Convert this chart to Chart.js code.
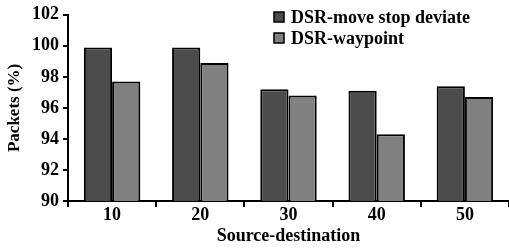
<!DOCTYPE html>
<html>
<head>
<meta charset="utf-8">
<script src="https://cdn.jsdelivr.net/npm/chart.js@4/dist/chart.umd.min.js"></script>
<style>
  html, body { margin: 0; padding: 0; background: #fff; }
  #wrap { width: 509px; height: 249px; }
</style>
</head>
<body>
<div id="wrap"><canvas id="myChart"></canvas></div>
<script>
const categories = ['10', '20', '30', '40', '50']
const moveStopDeviate = [99.9, 99.9, 97.2, 97.1, 97.4]
const waypoint = [97.7, 98.9, 96.8, 94.3, 96.7]
const seriesNames = ['DSR-move stop deviate', 'DSR-waypoint']
const yTicks = [90, 92, 94, 96, 98, 100, 102]

const serif = "'Liberation Serif', 'Times New Roman', serif"

// legend drawn in the top right corner, over the plot
const cornerLegend = {
  id: 'cornerLegend',
  afterDraw (chart) {
    const c = chart.ctx
    c.save()
    c.font = 'bold 18px ' + serif
    c.textBaseline = 'middle'
    chart.data.datasets.forEach((ds, i) => {
      const y = 17 + i * 21
      c.fillStyle = ds.backgroundColor
      c.fillRect(274, y - 5, 10, 10)
      c.strokeStyle = '#000'
      c.lineWidth = 1.5
      c.strokeRect(274, y - 5, 10, 10)
      c.fillStyle = '#000'
      c.fillText(ds.label, 291, y + 1)
    })
    c.restore()
  }
}

;(() => {
  'use strict'

  const ctx = document.getElementById('myChart')

  new Chart(ctx, {
    type: 'bar',
    data: {
      labels: categories,
      datasets: [
        {
          label: seriesNames[0],
          data: moveStopDeviate,
          backgroundColor: '#4b4b4b',
          borderColor: '#000',
          borderWidth: 2,
          borderSkipped: 'bottom'
        },
        {
          label: seriesNames[1],
          data: waypoint,
          backgroundColor: '#808080',
          borderColor: '#000',
          borderWidth: 2,
          borderSkipped: 'bottom'
        }
      ]
    },
    options: {
      responsive: true,
      maintainAspectRatio: false,
      animation: false,
      layout: { padding: { top: 6, right: 0, left: 0, bottom: 0 } },
      categoryPercentage: 0.64,
      barPercentage: 1,
      plugins: {
        legend: { display: false },
        tooltip: { enabled: false }
      },
      scales: {
        x: {
          border: { color: '#000', width: 2 },
          grid: {
            drawOnChartArea: false,
            color: '#000',
            lineWidth: 2,
            tickLength: 6
          },
          ticks: {
            color: '#000',
            padding: -2,
            font: { family: serif, size: 18, weight: 'bold' }
          },
          title: {
            display: true,
            text: 'Source-destination',
            color: '#000',
            padding: { top: 0, bottom: 2 },
            font: { family: serif, size: 18, weight: 'bold' }
          },
          afterFit (scale) { scale.height = 48 }
        },
        y: {
          min: 90,
          max: 102,
          border: { color: '#000', width: 2 },
          grid: {
            drawOnChartArea: false,
            color: '#000',
            lineWidth: 2,
            tickLength: 5
          },
          afterBuildTicks (scale) {
            scale.ticks = yTicks.map(v => ({ value: v }))
          },
          ticks: {
            color: '#000',
            padding: 4,
            font: { family: serif, size: 18, weight: 'bold' }
          },
          title: {
            display: true,
            text: 'Packets (%)',
            color: '#000',
            padding: { top: 4, bottom: 4 },
            font: { family: serif, size: 17, weight: 'bold' }
          },
          afterFit (scale) { scale.width = 68 }
        }
      }
    },
    plugins: [cornerLegend]
  })
})()
</script>
</body>
</html>
